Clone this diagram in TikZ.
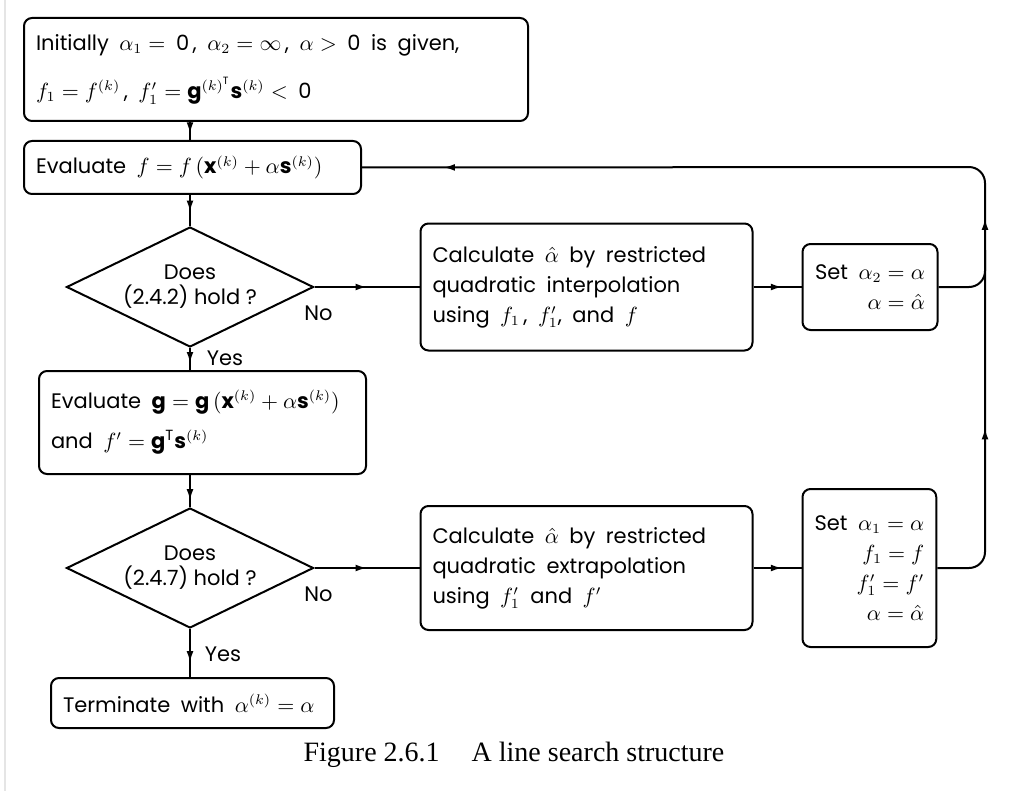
\documentclass[tikz,border=0pt]{standalone}
\usepackage{amsmath}
\usepackage{fontspec}
\setmainfont{Poppins}
\newfontfamily\capfont{Liberation Serif}
\usetikzlibrary{shapes.geometric, arrows.meta, positioning, decorations.markings}

\begin{document}
\begin{tikzpicture}[
  x=0.5pt, y=-0.5pt,
  every node/.style={font=\fontsize{10.5}{15}\selectfont, execute at begin node={\spaceskip=0.5em plus 0.1em\relax}},
  box/.style={draw, line width=1pt, rounded corners=4pt, align=left, inner xsep=6pt, inner ysep=2pt},
  setbox/.style={draw, line width=1pt, rounded corners=4pt, align=right, inner xsep=6pt, inner ysep=2pt},
  decision/.style={diamond, draw, line width=1pt, aspect=2.06, align=center, inner sep=0pt, minimum width=123.5pt, minimum height=60pt, font=\fontsize{10.5}{12.5}\selectfont, execute at begin node={\spaceskip=0pt\relax}},
  lbl/.style={inner sep=1pt},
  line/.style={line width=1pt},
  midarrow/.style={postaction={decorate, decoration={markings, mark=at position #1 with {\arrow{Latex[length=2mm, width=1.2mm]}}}}}
]
\useasboundingbox (0,0) rectangle (1010,791);
\draw[black!10, line width=1pt] (5,0) -- (5,791);

% Main column
\node[box, anchor=north west, minimum width=252pt, minimum height=51.5pt, text width=240pt] (init) at (23,17)
  {Initially $\alpha_1 =$ 0\,, $\alpha_2 = \infty$\,, $\alpha >$ 0 is given,\\[9pt]
   $f_1 = f^{(k)}$\,, $f_1' = \mathbf{g}^{(k)^{\mathrm{T}}}\mathbf{s}^{(k)} <$ 0};
\node[box, anchor=north west, minimum width=168.5pt, minimum height=26.5pt, text width=156.5pt] (evalf) at (23,140)
  {Evaluate $f = f\,(\mathbf{x}^{(k)} + \alpha\mathbf{s}^{(k)})$};
\node[decision] (dec1) at (190,287) {Does\\(2.4.2) hold ?};
\node[box, anchor=north west, minimum width=163.5pt, minimum height=51.5pt, text width=151.5pt] (evalg) at (38,370)
  {Evaluate $\mathbf{g} = \mathbf{g}\,(\mathbf{x}^{(k)} + \alpha\mathbf{s}^{(k)})$\\[5pt]
   and $f' = \mathbf{g}^{\mathrm{T}}\mathbf{s}^{(k)}$};
\node[decision] (dec2) at (190,568) {Does\\(2.4.7) hold ?};
\node[box, anchor=north west, minimum width=141.5pt, minimum height=25pt, text width=129.5pt] (term) at (50,677)
  {Terminate with $\alpha^{(k)} = \alpha$};

% Right column
\node[box, right=52.5pt of dec1, minimum width=166pt, minimum height=63.5pt, text width=154pt] (interp)
  {Calculate $\hat{\alpha}$ by restricted\\quadratic interpolation\\using $f_1$\,, $f_1'$, and $f$};
\node[setbox, right=24pt of interp, minimum width=67.5pt, minimum height=43pt] (setint)
  {Set $\alpha_2 = \alpha$\\$\alpha = \hat{\alpha}$};
\node[box, right=52.5pt of dec2, minimum width=166pt, minimum height=62pt, text width=154pt] (extrap)
  {Calculate $\hat{\alpha}$ by restricted\\quadratic extrapolation\\using $f_1'$ and $f'$};
\node[setbox, right=24pt of extrap, minimum width=66.5pt, minimum height=79pt] (setext)
  {Set $\alpha_1 = \alpha$\\$f_1 = f$\\$f_1' = f'$\\$\alpha = \hat{\alpha}$};

% Labels
\node[lbl] (no1) at ([shift={(4,26)}]dec1.east) {No};
\node[lbl] (yes1) at ([shift={(35,10)}]dec1.south) {Yes};
\node[lbl] (no2) at ([shift={(4,26)}]dec2.east) {No};
\node[lbl] (yes2) at ([shift={(33,25)}]dec2.south) {Yes};

% Connections
\coordinate (loop) at (985,167);
\coordinate (join) at (985,250);
\draw[line, midarrow=0.65] (init.south -| dec1.north) -- (evalf.north -| dec1.north);
\draw[line, midarrow=0.55] (evalf.south -| dec1.north) -- (dec1.north);
\draw[line, midarrow=0.7] (dec1.south) -- (evalg.north -| dec1.south);
\draw[line, midarrow=0.8] (evalg.south -| dec2.north) -- (dec2.north);
\draw[line, midarrow=0.7] (dec2.south) -- (term.north -| dec2.south);
\draw[line, midarrow=0.5] (dec1.east) -- (interp.west);
\draw[line, midarrow=0.6] (interp.east) -- (setint.west);
\draw[line, midarrow=0.5] (dec2.east) -- (extrap.west);
\draw[line, midarrow=0.6] (extrap.east) -- (setext.west);
\draw[line, rounded corners=8pt] (setint.east) -| (join);
\draw[line, rounded corners=8pt, midarrow=0.171, midarrow=0.369, midarrow=0.923] (setext.east) -| (loop) -- (evalf.east);

% Caption
\node[font=\capfont\fontsize{14}{16}\selectfont, execute at begin node={\spaceskip=0pt\relax}] (caption) at (514,755) {Figure 2.6.1\hspace{16pt}A line search structure};
\end{tikzpicture}
\end{document}
